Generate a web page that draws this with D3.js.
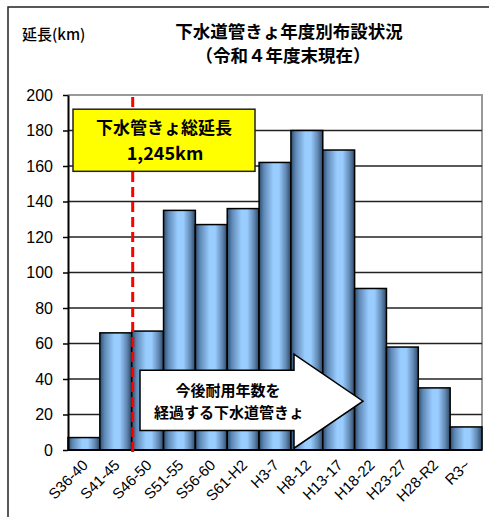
<!DOCTYPE html>
<html><head><meta charset="utf-8">
<script src="https://cdn.jsdelivr.net/npm/d3@7"></script>
<style>
html,body{margin:0;padding:0;background:#fff;}
svg{display:block;}
</style></head>
<body>
<svg id="c" width="489" height="517"></svg>
<script>
const categories = ["S36-40","S41-45","S46-50","S51-55","S56-60","S61-H2","H3-7","H8-12","H13-17","H18-22","H23-27","H28-R2","R3~"];
const values = [7,66,67,135,127,136,162,180,169,91,58,35,13];
const yTicks = [0,20,40,60,80,100,120,140,160,180,200];
const title1 = "下水道管きょ年度別布設状況";
const title2 = "（令和４年度末現在）";
const yLabel = "延長(km)";
const boxText = ["下水管きょ総延長","1,245km"];
const arrowText = ["今後耐用年数を","経過する下水道管きょ"];

const jp = "'Noto Sans CJK JP', sans-serif";
const lat = "'Liberation Sans', Arial, sans-serif";
const svg = d3.select("#c");

const L=68, R=482, T=95, B=450;
const x = d3.scaleBand().domain(categories).range([L,R]).padding(0);
const y = d3.scaleLinear().domain([0,200]).range([B,T]);

// gradient
const defs = svg.append("defs");
const g = defs.append("linearGradient").attr("id","cyl").attr("x1","0").attr("x2","1").attr("y1","0").attr("y2","0");
[[0,"#2f4d6e"],[0.15,"#5f89b6"],[0.45,"#9acdff"],[0.62,"#9acdff"],[0.85,"#5f86b0"],[1,"#2e4662"]]
  .forEach(([o,c])=>g.append("stop").attr("offset",o).attr("stop-color",c));

// outer frame
svg.append("path").attr("d","M8,517 L8,7 L489,7").attr("fill","none").attr("stroke","#222").attr("stroke-width",1.5);

// titles
svg.append("text").attr("x",289).attr("y",38).attr("text-anchor","middle").attr("font-family",jp).attr("font-weight","bold").attr("font-size",17.5).text(title1);
svg.append("text").attr("x",283).attr("y",62).attr("text-anchor","middle").attr("font-family",jp).attr("font-weight","bold").attr("font-size",17.5).text(title2);
svg.append("text").attr("x",22).attr("y",40).attr("font-family",jp).attr("font-weight","500").attr("font-size",15).text(yLabel);

// plot border (gray top/right)
svg.append("path").attr("d",`M${L},${T} L${R},${T} L${R},${B}`).attr("fill","none").attr("stroke","#999").attr("stroke-width",2);

// gridlines
svg.append("g").selectAll("line").data(yTicks.filter(d=>d>0&&d<200)).join("line")
  .attr("x1",L).attr("x2",R).attr("y1",d=>y(d)).attr("y2",d=>y(d))
  .attr("stroke","#222").attr("stroke-width",1.5);

// bars
svg.append("g").selectAll("rect").data(values).join("rect")
  .attr("x",(d,i)=>x(categories[i])).attr("width",x.bandwidth())
  .attr("y",d=>y(d)).attr("height",d=>y(0)-y(d))
  .attr("fill","url(#cyl)").attr("stroke","#000").attr("stroke-width",1.5);

// y axis
const ya = svg.append("g").attr("transform",`translate(${L},0)`)
  .call(d3.axisLeft(y).tickValues(yTicks).tickSize(5).tickPadding(10).tickSizeOuter(0));
ya.select(".domain").attr("stroke","#000").attr("stroke-width",2);
ya.selectAll(".tick line").attr("stroke","#000").attr("stroke-width",1.5);
ya.selectAll("text").attr("font-family",lat).attr("font-size",16).attr("fill","#000");

// x axis
svg.append("line").attr("x1",L).attr("x2",R).attr("y1",B).attr("y2",B).attr("stroke","#000").attr("stroke-width",2);
const c45 = Math.SQRT1_2;
svg.append("g").selectAll("text").data(categories).join("text")
  .attr("transform",d=>`matrix(${c45},${-c45},${c45},${c45},${x(d)+x.bandwidth()/2+5},${B+16})`)
  .attr("text-anchor","end").attr("font-family",lat).attr("font-size",15).attr("fill","#000").text(d=>d);

// red dashed line
const dx = x(categories[2]) + 1;
svg.append("line").attr("x1",dx).attr("x2",dx).attr("y1",T+2).attr("y2",B+4)
  .attr("stroke","#ff0000").attr("stroke-width",3).attr("stroke-dasharray","10,5");

// yellow box
svg.append("rect").attr("x",73).attr("y",y(192)).attr("width",182).attr("height",y(157)-y(192))
  .attr("fill","#ffff00").attr("stroke","#222").attr("stroke-width",1.5);
svg.append("text").attr("x",164).attr("y",134).attr("text-anchor","middle").attr("font-family",jp).attr("font-weight","bold").attr("font-size",17).text(boxText[0]);
svg.append("text").attr("x",165).attr("y",160).attr("text-anchor","middle").attr("font-family",jp).attr("font-weight","bold").attr("font-size",18).text(boxText[1]);

// arrow
const ap = [[140,y(45)],[294,y(45)],[294,y(54)],[363,y(27.5)],[294,y(1)],[294,y(11)],[140,y(11)]];
svg.append("path").attr("d","M"+ap.map(p=>p.join(",")).join("L")+"Z")
  .attr("fill","#fff").attr("stroke","#000").attr("stroke-width",1.5);
svg.append("text").attr("x",228).attr("y",396).attr("text-anchor","middle").attr("font-family",jp).attr("font-weight","bold").attr("font-size",15).text(arrowText[0]);
svg.append("text").attr("x",229).attr("y",418).attr("text-anchor","middle").attr("font-family",jp).attr("font-weight","bold").attr("font-size",15).text(arrowText[1]);
</script>
</body></html>
